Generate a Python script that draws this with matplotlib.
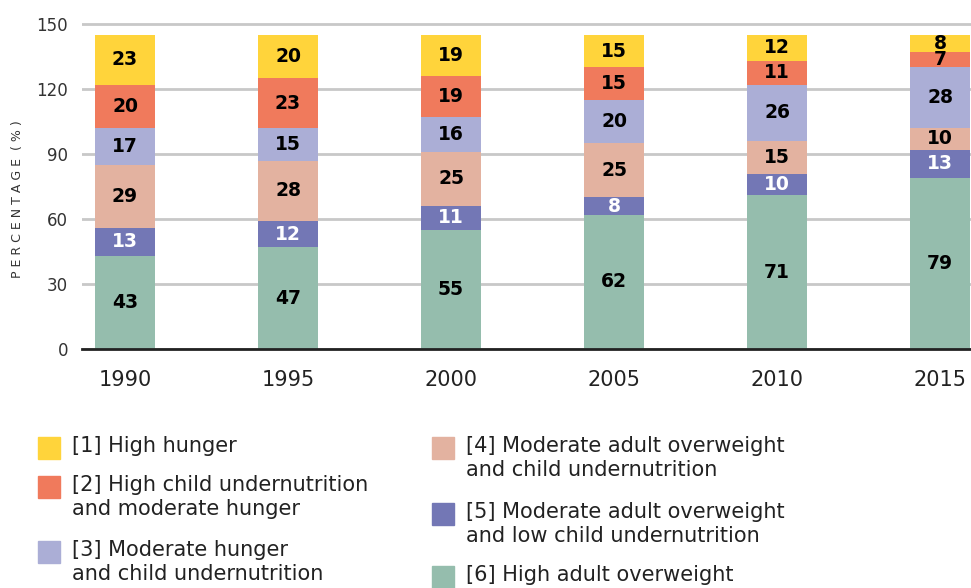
import numpy as np
import matplotlib
matplotlib.use('Agg')
import matplotlib.pyplot as plt
from matplotlib.patches import Rectangle

matplotlib.rcParams['font.family'] = 'DejaVu Sans'

# data (bottom to top of each stack)
years = ['1990', '1995', '2000', '2005', '2010', '2015']
high_overweight = [43, 47, 55, 62, 71, 79]        # [6]
mod_over_low_child = [13, 12, 11, 8, 10, 13]      # [5]
mod_over_child = [29, 28, 25, 25, 15, 10]         # [4]
mod_hunger_child = [17, 15, 16, 20, 26, 28]       # [3]
high_child_mod_hunger = [20, 23, 19, 15, 11, 7]   # [2]
high_hunger = [23, 20, 19, 15, 12, 8]             # [1]

stack = [high_overweight, mod_over_low_child, mod_over_child,
         mod_hunger_child, high_child_mod_hunger, high_hunger]
colors = ['#95BDAD', '#7377B5', '#E3B2A0', '#ABAED6', '#F07A5C', '#FFD43B']
text_colors = ['black', 'white', 'black', 'black', 'black', 'black']

legend_labels = ['[1] High hunger',
                 '[2] High child undernutrition\nand moderate hunger',
                 '[3] Moderate hunger\nand child undernutrition',
                 '[4] Moderate adult overweight\nand child undernutrition',
                 '[5] Moderate adult overweight\nand low child undernutrition',
                 '[6] High adult overweight']
legend_colors = ['#FFD43B', '#F07A5C', '#ABAED6', '#E3B2A0', '#7377B5', '#95BDAD']

W, H = 971, 588
fig = plt.figure(figsize=(W / 100, H / 100), dpi=100)
ax = fig.add_axes([82 / W, 1 - 349 / H, 1 - 82 / W, (349 - 23) / H])

x = np.arange(len(years))
bottom = np.zeros(len(years))
for vals, c, tc in zip(stack, colors, text_colors):
    vals = np.array(vals)
    ax.bar(x, vals, 0.368, bottom=bottom, color=c, zorder=2)
    for xi, b, v in zip(x, bottom, vals):
        ax.text(xi, b + v / 2, str(v), ha='center', va='center',
                color=tc, fontsize=13.5, fontweight='bold', zorder=3)
    bottom += vals

ax.set_xlim(-0.264, 5.19)
ax.set_ylim(0, 150.5)
ax.set_yticks([0, 30, 60, 90, 120, 150])
ax.set_xticks(x)
ax.set_xticklabels(years, fontsize=15, color='#222222')
ax.tick_params(axis='y', labelsize=12, colors='#333333', length=0, pad=10)
ax.tick_params(axis='x', length=0, pad=15)
ax.grid(axis='y', color='#c8c8c8', lw=2, zorder=0)
for s in ['top', 'right', 'left']:
    ax.spines[s].set_visible(False)
ax.spines['bottom'].set_color('#222222')
ax.spines['bottom'].set_linewidth(2)
ax.spines['bottom'].set_zorder(4)

fig.text(18 / W, 1 - 199 / H, 'P E R C E N T A G E  ( % )', rotation=90,
         ha='center', va='center', fontsize=9, color='#333333')

# legend drawn by hand in two columns
leg_pos = [(38, 437), (38, 476), (38, 541), (432, 437), (432, 503), (432, 566)]
for (lx, ly), lab, c in zip(leg_pos, legend_labels, legend_colors):
    fig.add_artist(Rectangle((lx / W, 1 - (ly + 22) / H), 22 / W, 22 / H,
                             transform=fig.transFigure, color=c))
    fig.text((lx + 34) / W, 1 - (ly - 1) / H, lab, ha='left', va='top',
             fontsize=15, color='#222222', linespacing=1.25)

plt.savefig('out.png', dpi=100)
